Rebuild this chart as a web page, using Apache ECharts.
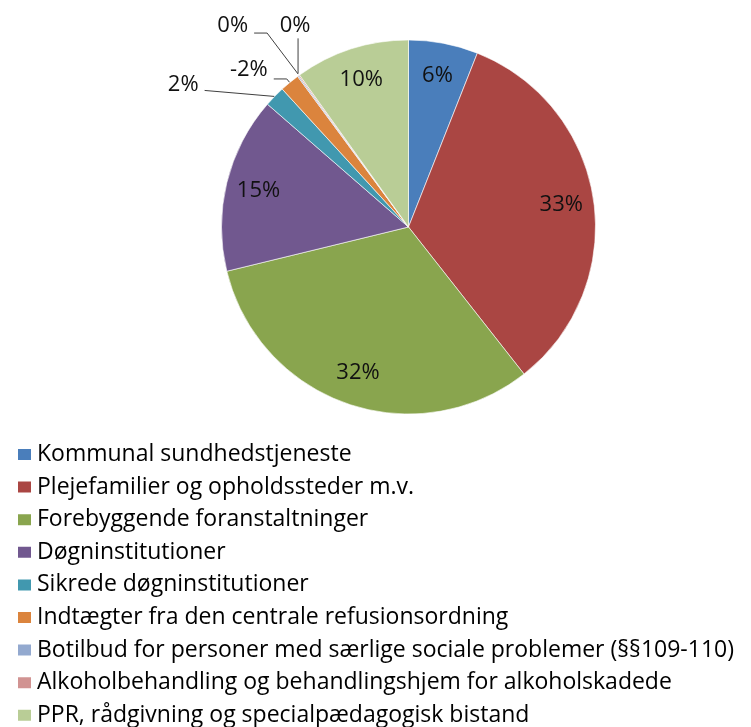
<!DOCTYPE html>
<html><head><meta charset="utf-8">
<script src="https://cdn.jsdelivr.net/npm/echarts@6/dist/echarts.min.js"></script>
<style>html,body{margin:0;padding:0;background:#fff}#c{width:751px;height:727px}</style>
</head><body><div id="c"></div>
<script>
// ---- data ----
const categories = [
  'Kommunal sundhedstjeneste',
  'Plejefamilier og opholdssteder m.v.',
  'Forebyggende foranstaltninger',
  'Døgninstitutioner',
  'Sikrede døgninstitutioner',
  'Indtægter fra den centrale refusionsordning',
  'Botilbud for personer med særlige sociale problemer (§§109-110)',
  'Alkoholbehandling og behandlingshjem for alkoholskadede',
  'PPR, rådgivning og specialpædagogisk bistand'
];
const shares = [6.0, 33.4, 31.8, 15.2, 1.8, -1.7, 0.1, 0.1, 9.9];

// ---- styles ----
const colors = ['#4A7EBB', '#AA4643', '#89A54E', '#71588F', '#4198AF', '#DB843D', '#93A9CF', '#D19392', '#B9CD96'];
const FONT = 'Open Sans';
const pieCenter = [408.5, 227];
const pieRadius = 187;
const insideRadiusFactor = 1.6; // moves inside labels from 0.5r to ~0.8r
// outside label placement relative to the slice-edge anchor
const outsideLayout = {
  4: { dx: -76, dy: -12, align: 'right', line: [[0, 0], [-70, -6]] },
  5: { dx: -22, dy: -13, align: 'right', line: [[0, 0], [-3, -3.6], [-16, -3.6]] },
  6: { dx: -50, dy: -50, align: 'right', line: [[0, -2], [-31, -43], [-44, -43]] },
  7: { dx: -4, dy: -50, align: 'center', line: [[-1, -2], [-1, -37]] }
};

const sumAbs = shares.reduce((a, b) => a + Math.abs(b), 0);
const pct = i => Math.round(shares[i] / sumAbs * 100) + '%';

const data = categories.map((name, i) => {
  const item = { name: name, value: Math.abs(shares[i]), itemStyle: { color: colors[i] } };
  if (outsideLayout[i]) {
    item.label = { position: 'outside' };
    item.labelLine = { show: true };
  }
  return item;
});

const chart = echarts.init(document.getElementById('c'), null, { renderer: 'canvas' });
chart.setOption({
  backgroundColor: '#ffffff',
  animation: false,
  legend: {
    orient: 'vertical',
    left: 16,
    top: 443,
    height: 300,
    padding: 0,
    icon: 'rect',
    itemWidth: 15,
    itemHeight: 13,
    itemGap: 9.6,
    textStyle: { fontFamily: FONT, fontSize: 23, lineHeight: 22, color: '#000' },
    data: categories
  },
  series: [{
    type: 'pie',
    center: pieCenter,
    radius: pieRadius,
    startAngle: 90,
    clockwise: true,
    avoidLabelOverlap: false,
    itemStyle: { borderColor: '#ffffff', borderWidth: 0.6 },
    label: {
      show: true,
      position: 'inside',
      fontFamily: FONT,
      fontSize: 22,
      color: '#111',
      formatter: p => pct(p.dataIndex)
    },
    labelLine: { show: false, lineStyle: { color: '#404040', width: 1 } },
    emphasis: { disabled: true },
    labelLayout: function (params) {
      const i = params.dataIndex;
      const o = outsideLayout[i];
      if (o) {
        const a = params.labelLinePoints ? params.labelLinePoints[0] : null;
        if (!a) return {};
        return {
          x: a[0] + o.dx,
          y: a[1] + o.dy,
          align: o.align,
          verticalAlign: 'middle',
          labelLinePoints: o.line.map(p => [a[0] + p[0], a[1] + p[1]])
        };
      }
      const r = params.labelRect;
      const lx = r.x + r.width / 2, ly = r.y + r.height / 2;
      return {
        x: pieCenter[0] + (lx - pieCenter[0]) * insideRadiusFactor,
        y: pieCenter[1] + (ly - pieCenter[1]) * insideRadiusFactor,
        align: 'center',
        verticalAlign: 'middle'
      };
    },
    data: data
  }]
});
</script>
</body></html>
